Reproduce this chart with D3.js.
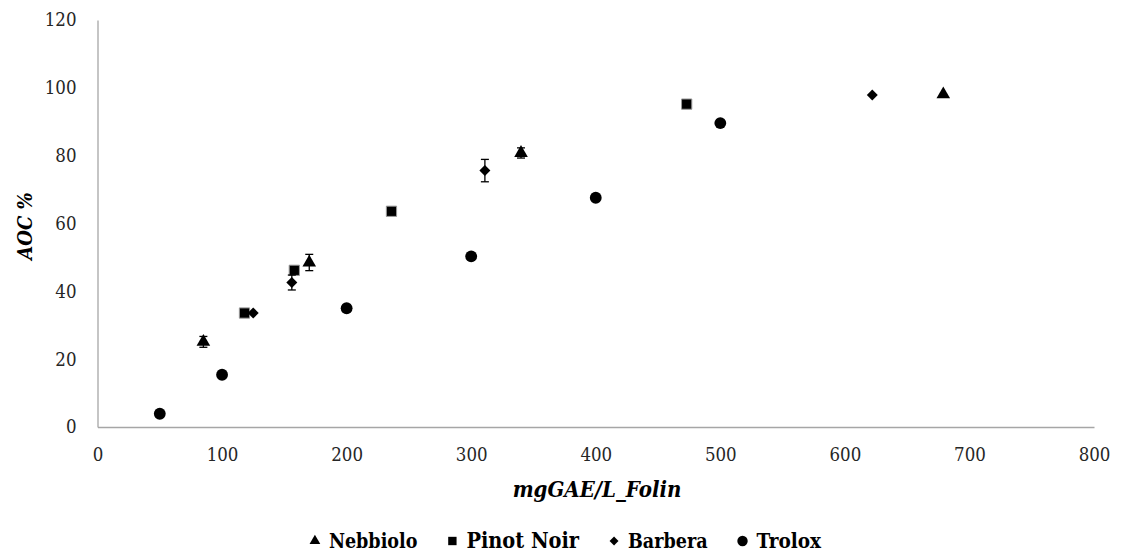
<!DOCTYPE html>
<html>
<head>
<meta charset="utf-8">
<script src="https://cdn.jsdelivr.net/npm/d3@7"></script>
<style>
  html, body { margin: 0; padding: 0; background: #fff; }
  svg { display: block; }
  .cond { font-family: "DejaVu Serif Condensed", "DejaVu Serif", serif; font-stretch: condensed; }
</style>
</head>
<body>
<svg id="chart" width="1121" height="554"></svg>
<script>
// ---- data ----
const xTicks = [0, 100, 200, 300, 400, 500, 600, 700, 800];
const yTicks = [0, 20, 40, 60, 80, 100, 120];

const seriesNames = ["Nebbiolo", "Pinot Noir", "Barbera", "Trolox"];

const nebbioloX = [85, 170, 340, 679];
const nebbioloY = [25.1, 48.5, 80.8, 98.1];
const nebbioloErr = [1.6, 2.4, 1.5, 0];

const pinotX = [118, 158, 236, 473];
const pinotY = [33.6, 46.2, 63.6, 95.2];
const pinotErr = [0, 0, 0, 0];

const barberaX = [125, 156, 311, 622];
const barberaY = [33.6, 42.6, 75.6, 97.9];
const barberaErr = [0, 2.2, 3.3, 0];

const troloxX = [50, 100, 200, 300, 400, 500];
const troloxY = [3.9, 15.4, 35, 50.3, 67.6, 89.6];
const troloxErr = [0, 0, 0, 0, 0, 0];

// ---- build ----
const svg = d3.select("#chart");
const x = d3.scaleLinear().domain([0, 800]).range([97.5, 1094]);
const y = d3.scaleLinear().domain([0, 120]).range([427, 20]);

const axisColor = "#a6a6a6";

const gx = svg.append("g").attr("transform", `translate(0,${y(0)})`)
  .call(d3.axisBottom(x).tickValues(xTicks).tickSize(0).tickSizeOuter(0).tickPadding(21).tickFormat(d3.format("d")));
const gy = svg.append("g").attr("transform", `translate(${x(0)},0)`)
  .call(d3.axisLeft(y).tickValues(yTicks).tickSize(0).tickSizeOuter(0).tickPadding(21).tickFormat(d3.format("d")));
[gx, gy].forEach(g => {
  g.select(".domain").attr("stroke", axisColor).attr("stroke-width", 1.3);
  g.selectAll("text").attr("class", "cond").attr("font-size", 18.5).attr("fill", "#262626");
});

// axis titles
svg.append("text").attr("class", "cond")
  .attr("x", 597).attr("y", 497).attr("text-anchor", "middle")
  .attr("font-size", 22).attr("font-weight", "bold").attr("font-style", "italic")
  .attr("fill", "#000").text("mgGAE/L_Folin");
svg.append("text").attr("class", "cond")
  .attr("transform", "translate(32,226) rotate(-90)").attr("text-anchor", "middle")
  .attr("font-size", 20).attr("font-weight", "bold").attr("font-style", "italic")
  .attr("fill", "#000").text("AOC %");

// rotated-square diamond (equal width and height)
const squareDiamond = {
  draw(ctx, size) {
    const r = Math.sqrt(size / 2);
    ctx.moveTo(0, -r); ctx.lineTo(r, 0); ctx.lineTo(0, r); ctx.lineTo(-r, 0); ctx.closePath();
  }
};

const symbols = {
  "Nebbiolo": d3.symbolTriangle,
  "Pinot Noir": d3.symbolSquare,
  "Barbera": squareDiamond,
  "Trolox": d3.symbolCircle
};
const sizes = { "Nebbiolo": 80, "Pinot Noir": 105, "Barbera": 60, "Trolox": 110 };

const series = [
  { name: "Nebbiolo", xs: nebbioloX, ys: nebbioloY, es: nebbioloErr },
  { name: "Pinot Noir", xs: pinotX, ys: pinotY, es: pinotErr },
  { name: "Barbera", xs: barberaX, ys: barberaY, es: barberaErr },
  { name: "Trolox", xs: troloxX, ys: troloxY, es: troloxErr }
];

const plot = svg.append("g");
series.forEach(s => {
  const pts = s.xs.map((v, i) => ({ x: v, y: s.ys[i], e: s.es[i] }));
  // error bars
  const eb = plot.append("g").selectAll("g").data(pts.filter(p => p.e > 0)).join("g")
    .attr("stroke", "#000").attr("stroke-width", 1.3);
  eb.append("line").attr("x1", p => x(p.x)).attr("x2", p => x(p.x))
    .attr("y1", p => y(p.y + p.e)).attr("y2", p => y(p.y - p.e));
  eb.append("line").attr("x1", p => x(p.x) - 4).attr("x2", p => x(p.x) + 4)
    .attr("y1", p => y(p.y + p.e)).attr("y2", p => y(p.y + p.e));
  eb.append("line").attr("x1", p => x(p.x) - 4).attr("x2", p => x(p.x) + 4)
    .attr("y1", p => y(p.y - p.e)).attr("y2", p => y(p.y - p.e));
  // markers
  plot.append("g").selectAll("path").data(pts).join("path")
    .attr("transform", p => `translate(${x(p.x)},${y(p.y)})`)
    .attr("d", d3.symbol().type(symbols[s.name]).size(sizes[s.name]))
    .attr("fill", "#000")
    .attr("stroke", s.name === "Pinot Noir" ? "#999" : "none")
    .attr("stroke-width", 1);
});

// legend
const legend = svg.append("g");
const legendFont = { "Nebbiolo": 19.5, "Pinot Noir": 21.5, "Barbera": 19.5, "Trolox": 20.5 };
const legendSize = { "Nebbiolo": 50, "Pinot Noir": 70, "Barbera": 40, "Trolox": 85 };
const markerGap = 14, itemGap = 35;
let cx = 0;
seriesNames.forEach(n => {
  const g = legend.append("g");
  g.append("path").attr("d", d3.symbol().type(symbols[n]).size(legendSize[n]))
    .attr("transform", `translate(${cx},-7)`).attr("fill", "#000");
  const t = g.append("text").attr("class", "cond").attr("x", cx + markerGap).attr("y", 0)
    .attr("font-size", legendFont[n]).attr("font-weight", "bold").attr("fill", "#000").text(n);
  cx += markerGap + t.node().getComputedTextLength() + itemGap;
});
const total = cx - itemGap + 6;
legend.attr("transform", `translate(${565 - total / 2 + 6},548)`);
</script>
</body>
</html>
